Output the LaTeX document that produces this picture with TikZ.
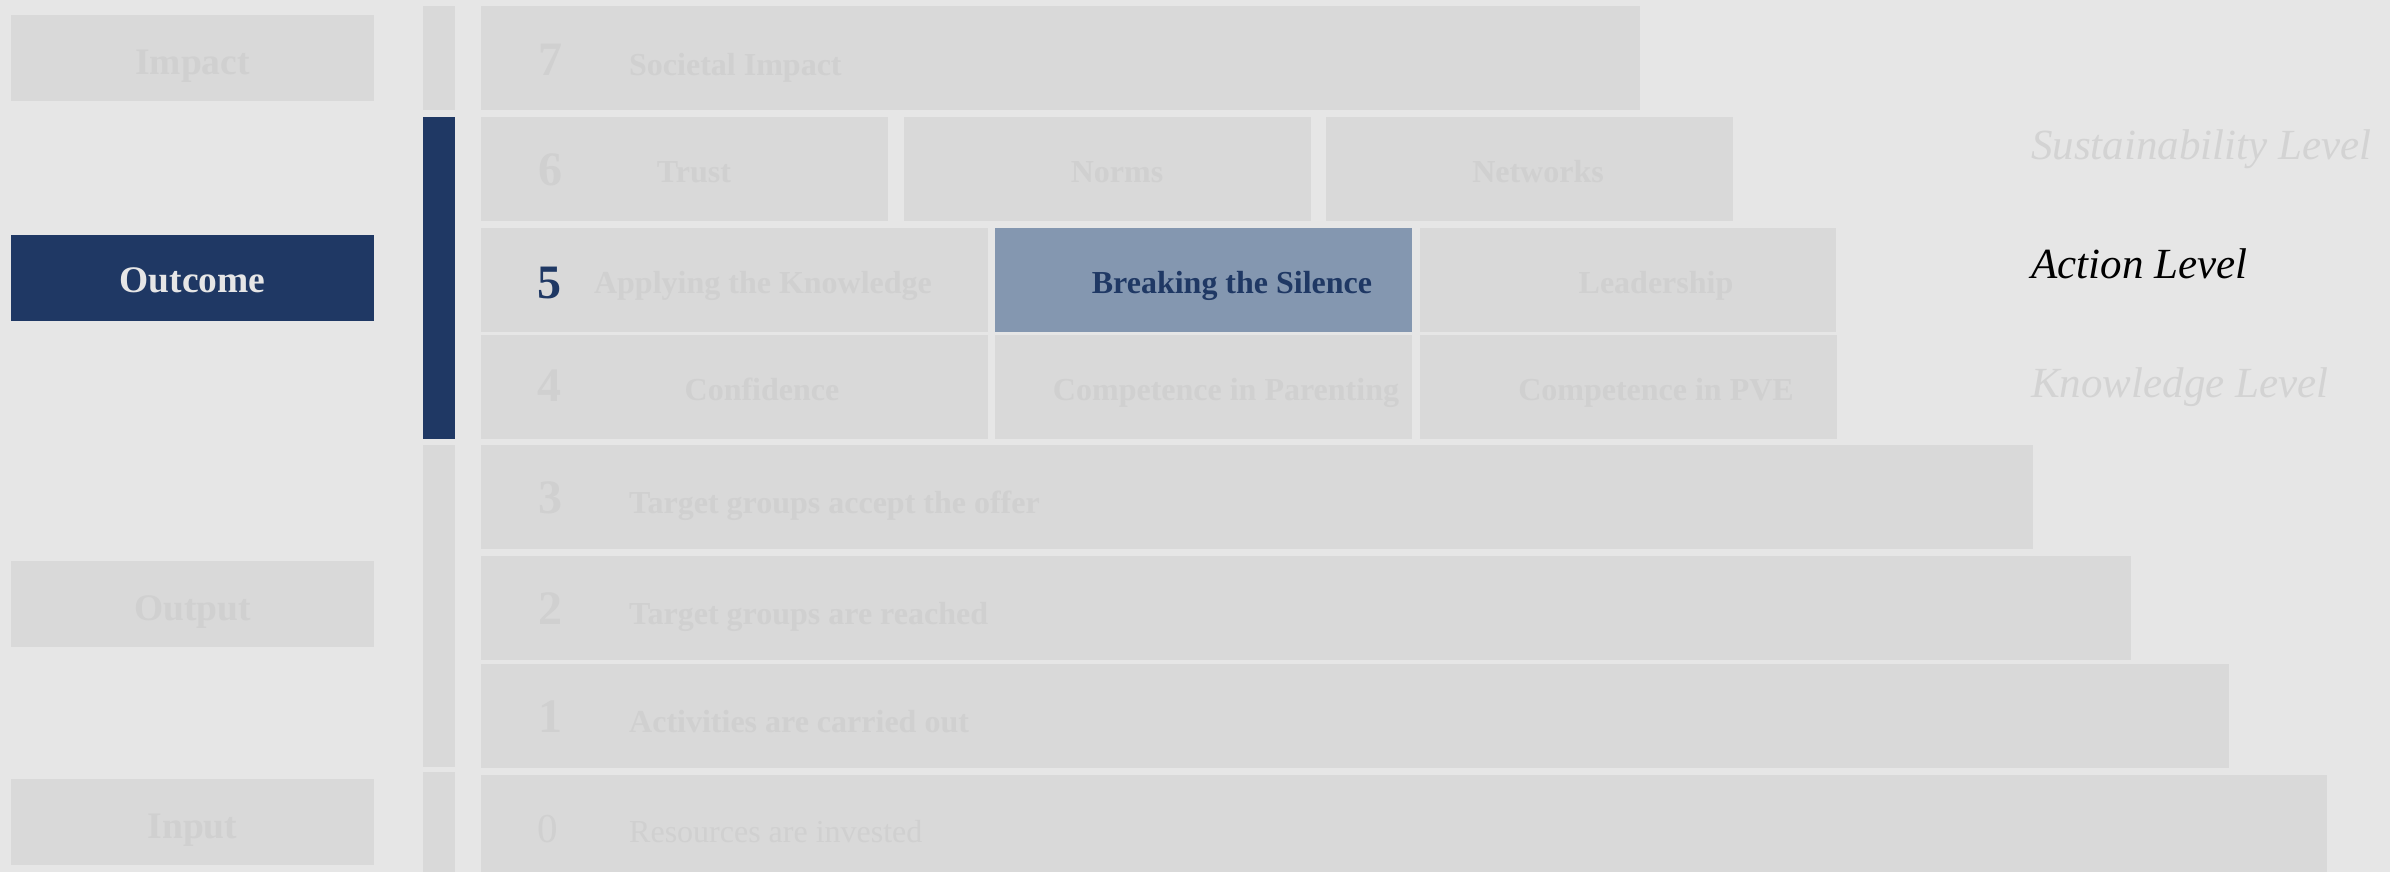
\documentclass[tikz,border=0pt]{standalone}
\usepackage{fontspec}
\setmainfont{Liberation Serif}
\definecolor{bgc}{HTML}{E6E6E6}
\definecolor{boxc}{HTML}{D9D9D9}
\definecolor{fadec}{HTML}{D0D0D0}
\definecolor{fadeit}{HTML}{D3D3D3}
\definecolor{navy}{HTML}{1F3864}
\definecolor{steel}{HTML}{8497B0}
\tikzset{
  blk/.style={fill=boxc, draw=none, inner sep=0pt, anchor=north west},
  hot/.style={blk, fill=navy},
  sel/.style={blk, fill=steel},
  numtxt/.style={inner sep=0pt, anchor=base, font=\fontsize{48}{56}\selectfont\bfseries, text=fadec},
  rowtxt/.style={inner sep=0pt, anchor=base west, font=\fontsize{32}{38}\selectfont\bfseries, text=fadec},
  celltxt/.style={inner sep=0pt, anchor=base, font=\fontsize{32}{38}\selectfont\bfseries, text=fadec},
  sidetxt/.style={inner sep=0pt, anchor=base, font=\fontsize{37.5}{44}\selectfont\bfseries, text=fadec},
  lvltxt/.style={inner sep=0pt, anchor=base west, font=\fontsize{43}{50}\selectfont\itshape, text=fadeit},
}
\newcommand{\blkat}[6]{\node[#1, minimum width=#5-#3, minimum height=#6-#4] (#2) at (#3,#4) {};}
\begin{document}
\begin{tikzpicture}[x=1pt, y=-1pt]
\useasboundingbox (0,0) rectangle (2390,872);
\fill[bgc] (0,0) rectangle (2390,872);
\begin{scope}
\clip (0,0) rectangle (2390,872);
% left column of stage labels
\blkat{blk}{impact}{11}{15}{374}{101}
\blkat{hot}{outcome}{11}{235}{374}{321}
\blkat{blk}{output}{11}{561}{374}{647}
\blkat{blk}{input}{11}{779}{374}{865}
% vertical bar segments
\blkat{blk}{bar7}{423}{6}{455}{110}
\blkat{hot}{barmid}{423}{117}{455}{439}
\blkat{blk}{barlow}{423}{445}{455}{767}
\blkat{blk}{bar0}{423}{772}{455}{879}
% staircase rows
\blkat{blk}{r7}{481}{6}{1640}{110}
\blkat{blk}{r6a}{481}{117}{888}{221}
\blkat{blk}{r6b}{904}{117}{1311}{221}
\blkat{blk}{r6c}{1326}{117}{1733}{221}
\blkat{blk}{r5a}{481}{228}{988}{332}
\blkat{sel}{r5b}{995}{228}{1412}{332}
\blkat{blk}{r5c}{1420}{228}{1836}{332}
\blkat{blk}{r4a}{481}{335}{988}{439}
\blkat{blk}{r4b}{995}{335}{1412}{439}
\blkat{blk}{r4c}{1420}{335}{1837}{439}
\blkat{blk}{r3}{481}{445}{2033}{549}
\blkat{blk}{r2}{481}{556}{2131}{660}
\blkat{blk}{r1}{481}{664}{2229}{768}
\blkat{blk}{r0}{481}{775}{2327}{879}
\end{scope}
% stage labels
\node[sidetxt] (timpact) at (192.5,75) {Impact};
\node[sidetxt, text=bgc] (toutcome) at (192.5,292) {Outcome};
\node[sidetxt] (toutput) at (192.5,620) {Output};
\node[sidetxt] (tinput) at (192.5,838) {Input};
% level numbers
\node[numtxt] (n7) at (550,76) {7};
\node[numtxt] (n6) at (550,185) {6};
\node[numtxt, text=navy] (n5) at (549,298) {5};
\node[numtxt] (n4) at (549,401) {4};
\node[numtxt] (n3) at (550,513) {3};
\node[numtxt] (n2) at (550,624) {2};
\node[numtxt] (n1) at (550,732) {1};
\node[numtxt, font=\fontsize{41}{48}\selectfont] (n0) at (548,842) {0};
% row texts
\node[rowtxt] (t7) at (629,76) {Societal Impact};
\node[celltxt] (t6a) at (694,182) {Trust};
\node[celltxt] (t6b) at (1117,182) {Norms};
\node[celltxt] (t6c) at (1538,182) {Networks};
\node[celltxt] (t5a) at (763,293) {Applying the Knowledge};
\node[celltxt, text=navy] (t5b) at (1232,293) {Breaking the Silence};
\node[celltxt] (t5c) at (1656,293) {Leadership};
\node[celltxt] (t4a) at (762,400) {Confidence};
\node[celltxt] (t4b) at (1226,400) {Competence in Parenting};
\node[celltxt] (t4c) at (1656,400) {Competence in PVE};
\node[rowtxt] (t3) at (629,513) {Target groups accept the offer};
\node[rowtxt] (t2) at (629,624) {Target groups are reached};
\node[rowtxt] (t1) at (629,732) {Activities are carried out};
\node[rowtxt, font=\fontsize{32}{38}\selectfont] (t0) at (629,842) {Resources are invested};
% level captions
\node[lvltxt] (lsus) at (2031,159) {Sustainability Level};
\node[lvltxt, text=black] (lact) at (2031,278) {Action Level};
\node[lvltxt] (lknow) at (2031,397) {Knowledge Level};
\end{tikzpicture}
\end{document}
